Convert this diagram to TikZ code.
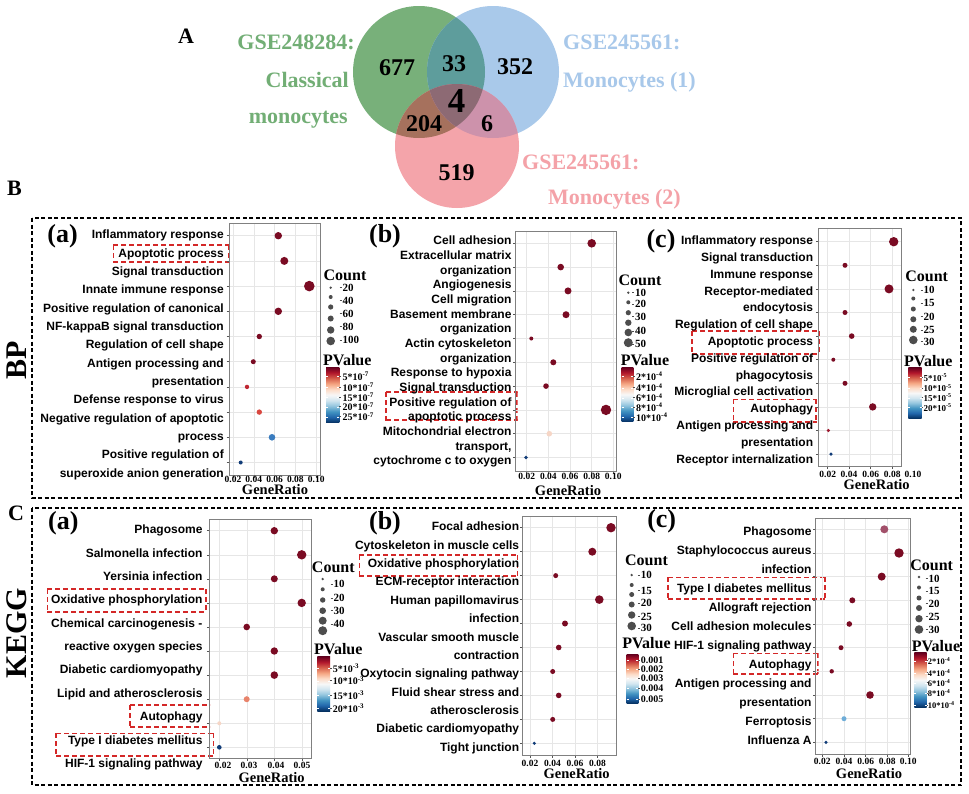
\documentclass[tikz,border=0pt]{standalone}
\usepackage{fontspec}
\setmainfont{Liberation Serif}
\newfontfamily\arialf{Liberation Sans}
\definecolor{dr}{HTML}{7A0B23}
\definecolor{dr2}{HTML}{9E1A30}
\definecolor{mr}{HTML}{BF2732}
\definecolor{lr}{HTML}{D9473F}
\definecolor{salm}{HTML}{E8836B}
\definecolor{peach}{HTML}{F6D6C6}
\definecolor{mb}{HTML}{3A7CBF}
\definecolor{lb}{HTML}{6EADD8}
\definecolor{db}{HTML}{113C78}
\definecolor{mauve}{HTML}{A2506A}
\definecolor{vg}{HTML}{78B07A}
\definecolor{vb}{HTML}{A9C9EA}
\definecolor{vp}{HTML}{F4A4AA}
\definecolor{vgb}{HTML}{5E9D9C}
\definecolor{vgp}{HTML}{A6715D}
\definecolor{vbp}{HTML}{CD92AB}
\definecolor{vall}{HTML}{8D6A74}
\definecolor{tg}{HTML}{72AE75}
\definecolor{tb}{HTML}{A8C8EA}
\definecolor{tp}{HTML}{F4A2A8}
\definecolor{gridc}{HTML}{E6E6E6}
\definecolor{tickc}{HTML}{555555}
\definecolor{framec}{HTML}{808080}
\definecolor{legc}{HTML}{4D4D4D}
\definecolor{redd}{RGB}{212,40,40}
\pgfdeclareverticalshading{rdbu}{100bp}{rgb(0bp)=(0.02,0.19,0.38); rgb(25bp)=(0.02,0.19,0.38); rgb(30bp)=(0.13,0.40,0.67); rgb(35bp)=(0.26,0.58,0.76); rgb(40bp)=(0.57,0.77,0.87); rgb(45bp)=(0.82,0.90,0.94); rgb(50bp)=(0.97,0.97,0.97); rgb(55bp)=(0.99,0.86,0.78); rgb(60bp)=(0.96,0.65,0.51); rgb(65bp)=(0.84,0.38,0.30); rgb(70bp)=(0.70,0.09,0.17); rgb(75bp)=(0.40,0.0,0.12); rgb(100bp)=(0.40,0.0,0.12)}
\newcommand{\ylabs}[5]{\foreach \t [count=\i from 0] in {#5} {\node[lab] (#1\i) at (#2,{#3+\i*#4}) {\t};}}
\newcommand{\pframe}[6]{%
 \foreach \gx in {#5} {\draw[gridl] (\gx,#2) -- (\gx,#4); \draw[tickl] (\gx,#4) -- (\gx,#4+2.5);}%
 \foreach \gy in {#6} {\draw[gridl] (#1,\gy) -- (#3,\gy); \draw[tickl] (#1-2.5,\gy) -- (#1,\gy);}%
 \draw[framel] (#1,#2) rectangle (#3,#4);}
\newcommand{\xlabs}[3]{\foreach \gx/\lt [count=\i] in {#3} {\node[tickf] (#1\i) at (\gx,#2) {\lt};}}
\newcommand{\pdots}[1]{\foreach \px/\py/\pr/\pc in {#1} {\fill[\pc] (\px,\py) circle[radius=\pr];}}
\newcommand{\cleg}[7]{% name, title x, title y, dot x, dots y/r, label x, labels y/text
 \node[legt] (#1ct) at (#2,#3) {Count};
 \foreach \yy/\rr in {#5} {\fill[legdot] (#4,\yy) circle[radius=\rr];}
 \foreach \yy/\tt [count=\i] in {#7} {\draw[legtick] (#6-2.8,\yy) -- (#6-0.8,\yy); \node[legl] (#1cl\i) at (#6,\yy) {\tt};}}
\newcommand{\pleg}[9]{% name, title x, title y, x1,y1,x2,y2, label x, labels
 \node[legt] (#1pt) at (#2,#3) {PValue};
 \shade[shading=rdbu] (#4,#5) rectangle (#6,#7);
 \foreach \yy/\tt [count=\i] in {#9} {\draw[white,line width=0.4pt] (#4,\yy) -- (#4+2,\yy); \draw[white,line width=0.4pt] (#6-2,\yy) -- (#6,\yy); \draw[legtick] (#6,\yy) -- (#6+1.5,\yy); \node[pvl] (#1pl\i) at (#8,\yy) {\tt};}}
\newcommand{\redbx}[4]{%
 \begin{scope}
 \clip (#1-0.9,#2-0.9) rectangle (#3+0.9,#4+0.9);
 \foreach \s in {0,8,...,168} {\fill[redd] ({#1+\s},#2-0.8) rectangle ({#1+\s+5},#2+0.8); \fill[redd] ({#1+\s},#4-0.8) rectangle ({#1+\s+5},#4+0.8);}
 \foreach \s in {0,8,...,32} {\fill[redd] (#1-0.8,{#2+\s}) rectangle (#1+0.8,{#2+\s+5}); \fill[redd] (#3-0.8,{#2+\s}) rectangle (#3+0.8,{#2+\s+5});}
 \end{scope}}
\begin{document}
\begin{tikzpicture}[x=1pt,y=-1pt,
 lab/.style={anchor=east,inner sep=0pt,font=\arialf\bfseries\fontsize{12}{14}\selectfont,text height=8.6pt,text depth=2.5pt},
 tickf/.style={inner sep=0pt,font=\bfseries\fontsize{9.5}{11}\selectfont},
 axt/.style={inner sep=0pt,font=\bfseries\fontsize{14.5}{16}\selectfont},
 legt/.style={inner sep=0pt,font=\bfseries\fontsize{16}{18}\selectfont},
 legl/.style={anchor=west,inner sep=0pt,font=\bfseries\fontsize{11}{12}\selectfont},
 pvl/.style={anchor=west,inner sep=0pt,font=\bfseries\fontsize{10}{11}\selectfont},
 plab/.style={inner sep=0pt,font=\bfseries\fontsize{26}{28}\selectfont},
 big/.style={inner sep=0pt,font=\bfseries\fontsize{22}{24}\selectfont},
 side/.style={inner sep=0pt,rotate=90,font=\bfseries\fontsize{30}{32}\selectfont},
 vnum/.style={inner sep=0pt,font=\bfseries\fontsize{24}{26}\selectfont},
 vlab/.style={inner sep=0pt,font=\bfseries\fontsize{22}{24}\selectfont},
 gridl/.style={draw=gridc,line width=0.5pt},
 tickl/.style={draw=tickc,line width=0.6pt},
 framel/.style={draw=framec,line width=0.9pt},
 legdot/.style={fill=legc},
 legtick/.style={draw=legc,line width=0.5pt},
 blkbox/.style={draw=black,line width=1.4pt,dash pattern=on 4pt off 2.5pt}]
\useasboundingbox (0,0) rectangle (969,793);
\fill[white] (0,0) rectangle (969,793);
% ---------------- Venn
\fill[vg] (419,72) circle[radius=66];
\fill[vb] (493,72) circle[radius=66];
\fill[vp] (457,146) circle[radius=62];
\begin{scope}\clip (419,72) circle[radius=66]; \fill[vgb] (493,72) circle[radius=66];\end{scope}
\begin{scope}\clip (419,72) circle[radius=66]; \fill[vgp] (457,146) circle[radius=62];\end{scope}
\begin{scope}\clip (493,72) circle[radius=66]; \fill[vbp] (457,146) circle[radius=62];\end{scope}
\begin{scope}\clip (419,72) circle[radius=66]; \clip (493,72) circle[radius=66]; \fill[vall] (457,146) circle[radius=62];\end{scope}
\node[big] (A) at (186,36) {A};
\node[vlab,text=tg,anchor=base east] (g1) at (355,49) {GSE248284:};
\node[vlab,text=tg,anchor=base east] (g2) at (349,87.5) {Classical};
\node[vlab,text=tg,anchor=base east] (g3) at (348,123) {monocytes};
\node[vlab,text=tb,anchor=base west] (b1) at (563,49) {GSE245561:};
\node[vlab,text=tb,anchor=base west] (b2) at (563,87.5) {Monocytes (1)};
\node[vlab,text=tp,anchor=base west] (p1) at (522,169) {GSE245561:};
\node[vlab,text=tp,anchor=base west] (p2) at (548,204) {Monocytes (2)};
\node[vnum] (n677) at (397,67.5) {677};
\node[vnum] (n33) at (454,63.5) {33};
\node[vnum] (n352) at (515,66.7) {352};
\node[vnum,font=\bfseries\fontsize{35}{37}\selectfont] (n4) at (456.7,100.8) {4};
\node[vnum] (n204) at (424,123.3) {204};
\node[vnum] (n6) at (487,123.3) {6};
\node[vnum] (n519) at (456.7,172.5) {519};
% ---------------- section labels and boxes
\node[big] (B) at (14.5,188) {B};
\node[big] (C) at (16,513) {C};
\node[side] (BP) at (17,360) {BP};
\node[side] (KEGG) at (17,633) {KEGG};
\draw[blkbox] (32,218) rectangle (961,498);
\draw[blkbox] (32,508) rectangle (961,785);
% ---------------- red highlight boxes
\redbx{113.3}{245}{228.3}{261.7}
\redbx{386}{391.7}{516.7}{420}
\redbx{691.7}{330.7}{819}{354}
\redbx{733.3}{399.3}{816}{421.7}
\redbx{47.3}{589}{206}{611.7}
\redbx{130}{705}{209.3}{726.7}
\redbx{56}{733.3}{213.3}{755.7}
\redbx{359.3}{555}{517.3}{576}
\redbx{667.7}{577.3}{825}{599}
\redbx{733.3}{653.3}{817.7}{674}
% ---------------- BP (a)
\node[plab] (BPa) at (62.5,235.8) {(a)};
\pframe{229}{223}{320}{475}{233,253.8,274.6,295.4,316.2}{235.7,260.9,286.1,311.3,336.5,361.7,386.9,412.1,437.3,462.5}
\ylabs{bpa}{224}{235.7}{18.33}{{Inflammatory response},{Apoptotic process},{Signal transduction},{Innate immune response},{Positive regulation of canonical},{NF-kappaB signal transduction},{Regulation of cell shape},{Antigen processing and},{presentation},{Defense response to virus},{Negative regulation of apoptotic},{process},{Positive regulation of},{superoxide anion generation}}
\pdots{278.3/235.7/3.7/dr,284.3/260.9/4/dr,309.3/286.1/5.3/dr,278.3/311.3/3.7/dr,259.3/336.5/2.7/dr,253.3/361.7/2.5/dr,247/386.9/2.2/mr,259.3/412.1/2.7/lr,272/437.3/3.3/mb,240.7/462.5/2/db}
\xlabs{bpax}{479}{233/0.02,253.8/0.04,274.6/0.06,295.4/0.08,316.2/0.10}
\node[axt] (bpag) at (275,490) {GeneRatio};
\cleg{bpa}{345}{275}{330.7}{287.7/1.3,297/2,307/2.6,318.5/3,330/3.7,341/4.3}{342.3}{287.7/20,300.7/40,313.5/60,326.7/80,340/100}
\pleg{bpa}{347.3}{360}{326}{367.3}{339.3}{422.7}{342.3}{376/5*10\textsuperscript{-7},387.3/10*10\textsuperscript{-7},397/15*10\textsuperscript{-7},406.7/20*10\textsuperscript{-7},416.7/25*10\textsuperscript{-7}}
% ---------------- BP (b)
\node[plab] (BPb) at (385,236.7) {(b)};
\pframe{515.7}{231.7}{616}{471}{526.7,548.4,570,591.7,613.3}{243.3,267.1,290.9,314.7,338.5,362.3,386.1,409.9,433.7,457.5}
\ylabs{bpb}{511.7}{241.7}{14.67}{{Cell adhesion},{Extracellular matrix},{organization},{Angiogenesis},{Cell migration},{Basement membrane},{organization},{Actin cytoskeleton},{organization},{Response to hypoxia},{Signal transduction},{Positive regulation of},{apoptotic process},{Mitochondrial electron},{transport,},{cytochrome c to oxygen}}
\pdots{591.7/243.3/4.3/dr,560.7/267.1/3.3/dr,568/290.9/3.5/dr,566/314.7/3.5/dr,531.3/338.5/2/dr,553.3/362.3/3/dr,546/386.1/2.8/dr,606/409.9/5.2/dr,549.3/433.7/2.8/peach,526/457.5/1.8/db}
\xlabs{bpbx}{476}{526.7/0.02,548.4/0.04,570/0.06,591.7/0.08,613.3/0.10}
\node[axt] (bpbg) at (568,491) {GeneRatio};
\cleg{bpb}{640}{280}{628.3}{292.7/1.3,302.3/2,312.7/2.6,322.7/3.2,332.5/3.8,342.7/4.5}{635}{292.7/10,304.3/20,316.7/30,331/40,344/50}
\pleg{bpb}{645}{360}{621.7}{367.3}{633.3}{421.7}{636}{376/2*10\textsuperscript{-4},387.7/4*10\textsuperscript{-4},397.7/6*10\textsuperscript{-4},407.3/8*10\textsuperscript{-4},417.3/10*10\textsuperscript{-4}}
% ---------------- BP (c)
\node[plab] (BPc) at (661,241.7) {(c)};
\pframe{818.3}{228.3}{901.7}{466.7}{827.7,849,870.7,892.3}{241.7,265.3,288.9,312.5,336.1,359.7,383.3,406.9,430.5,454.1}
\ylabs{bpc}{813.3}{241.7}{16.8}{{Inflammatory response},{Signal transduction},{Immune response},{Receptor-mediated},{endocytosis},{Regulation of cell shape},{Apoptotic process},{Positive regulation of},{phagocytosis},{Microglial cell activation},{Autophagy},{Antigen processing and},{presentation},{Receptor internalization}}
\pdots{893.7/241.7/4.7/dr,845/265.3/2.5/dr,889/288.9/4.5/dr,845/312.5/2.5/dr,851.7/336.1/2.8/dr,833.3/359.7/2/dr,845/383.3/2.5/dr,872.7/406.9/3.7/dr,828.3/430.5/1.7/dr2,831/454.1/1.8/db}
\xlabs{bpcx}{474.5}{827.7/0.02,849/0.04,870.7/0.06,892.3/0.08,913/0.10}
\node[axt] (bpcg) at (876.7,485) {GeneRatio};
\cleg{bpc}{926.7}{276.7}{913.3}{290/1.3,298.5/2,309/2.5,319.3/3,329.3/3.5,340/4.3}{923.3}{290/10,303.3/15,316.7/20,330/25,341.7/30}
\begin{scope}[pvl/.append style={font=\bfseries\fontsize{9}{10}\selectfont}]
\pleg{bpc}{928.3}{360.7}{908.3}{367.7}{921.7}{418.3}{923.3}{377.3/5*10\textsuperscript{-5},388/10*10\textsuperscript{-5},397.7/15*10\textsuperscript{-5},407.5/20*10\textsuperscript{-5}}
\end{scope}
% ---------------- KEGG (a)
\node[plab] (Ka) at (63.3,523.3) {(a)};
\pframe{209.3}{519.3}{311.7}{758.3}{219.5,247,274.5,302}{530.7,554.8,578.8,602.9,627,651,675.1,699.2,723.3,747.3}
\ylabs{ka}{202.7}{530.7}{23.36}{{Phagosome},{Salmonella infection},{Yersinia infection},{Oxidative phosphorylation},{Chemical carcinogenesis -},{reactive oxygen species},{Diabetic cardiomyopathy},{Lipid and atherosclerosis},{Autophagy},{Type I diabetes mellitus},{HIF-1 signaling pathway}}
\pdots{274.3/530.7/3.7/dr,301.7/554.8/4.7/dr,274.3/578.8/3.5/dr,301.7/602.9/4.2/dr,246.7/627/3.3/dr,274.3/651/3.7/dr,274.3/675.1/3.8/dr,246.7/699.2/3/salm,219.3/723.3/2/peach,219.3/747.3/2.3/db}
\xlabs{kax}{765.3}{223/0.02,249/0.03,276/0.04,302/0.05}
\node[axt] (kag) at (271.7,777.5) {GeneRatio};
\cleg{ka}{333.3}{567.3}{322.7}{579/1.3,589.3/2,600/2.7,610.7/3.3,620.7/4,630.7/4.5}{333.3}{584/10,598.3/20,610.7/30,624.3/40}
\pleg{ka}{338.3}{649.3}{317.3}{656.7}{330}{711}{332.7}{668.3/5*10\textsuperscript{-3},680.7/10*10\textsuperscript{-3},695/15*10\textsuperscript{-3},708.3/20*10\textsuperscript{-3}}
% ---------------- KEGG (b)
\node[plab] (Kb) at (385,523.3) {(b)};
\pframe{522.7}{516}{616.7}{755}{530,552.5,575,597.5}{527.7,551.7,575.6,599.6,623.5,647.5,671.5,695.4,719.4,743.3}
\ylabs{kb}{519.3}{527.7}{18.38}{{Focal adhesion},{Cytoskeleton in muscle cells},{Oxidative phosphorylation},{ECM-receptor interaction},{Human papillomavirus},{infection},{Vascular smooth muscle},{contraction},{Oxytocin signaling pathway},{Fluid shear stress and},{atherosclerosis},{Diabetic cardiomyopathy},{Tight junction}}
\pdots{611/527.7/4.7/dr,592.3/551.7/4/dr,555.7/575.6/2.5/dr,599.3/599.6/4.3/dr,565/623.5/3/dr,558.7/647.5/2.8/dr,552.7/671.5/2.5/dr,558.7/695.4/2.8/dr,552.7/719.4/2.5/dr,534.3/743.3/1.7/db}
\xlabs{kbx}{763.3}{530/0.02,552.5/0.04,575/0.06,597.5/0.08}
\node[axt] (kbg) at (576.7,773.5) {GeneRatio};
\cleg{kb}{646.5}{560.5}{631.7}{575/1.3,585/2,594.5/2.5,604.5/3,615/3.7,626/4.3}{640.7}{575/10,590.7/15,603.3/20,616.7/25,628.3/30}
\pleg{kb}{646.5}{643.3}{626.7}{654.3}{638.3}{703.3}{640.7}{660/0.001,669.3/0.002,678.3/0.003,688.3/0.004,699.3/0.005}
% ---------------- KEGG (c)
\node[plab] (Kc) at (661.7,521.7) {(c)};
\pframe{815.7}{518.3}{910}{754.3}{822.3,844,865.7,887.3,908.3}{529.3,553,576.6,600.3,624,647.7,671.3,695,718.7,742.3}
\ylabs{kc}{811.7}{532.3}{19.04}{{Phagosome},{Staphylococcus aureus},{infection},{Type I diabetes mellitus},{Allograft rejection},{Cell adhesion molecules},{HIF-1 signaling pathway},{Autophagy},{Antigen processing and},{presentation},{Ferroptosis},{Influenza A}}
\pdots{884.3/529.3/4/mauve,899/553/4.7/dr,881.7/576.6/4/dr,852.3/600.3/3/dr,849.3/624/2.8/dr,841/647.7/2.5/dr,831.7/671.3/2.2/dr,870/695/3.8/dr,844/718.7/2.5/lb,826/742.3/1.7/db}
\xlabs{kcx}{761}{822.3/0.02,844/0.04,865.7/0.06,887.3/0.08,908.3/0.10}
\node[axt] (kcg) at (869,773.5) {GeneRatio};
\cleg{kc}{931.7}{565}{919}{577/1.3,587.5/2,598/2.5,608/3,618.7/3.7,629.5/4.3}{928.3}{578.5/10,591/15,603.5/20,616.5/25,629.5/30}
\begin{scope}[pvl/.append style={font=\bfseries\fontsize{8.5}{9}\selectfont}]
\pleg{kc}{936}{646}{914.3}{652.7}{926.7}{707.3}{927.7}{660.7/2*10\textsuperscript{-4},672.7/4*10\textsuperscript{-4},682.7/6*10\textsuperscript{-4},693.3/8*10\textsuperscript{-4},705/10*10\textsuperscript{-4}}
\end{scope}
\end{tikzpicture}
\end{document}
